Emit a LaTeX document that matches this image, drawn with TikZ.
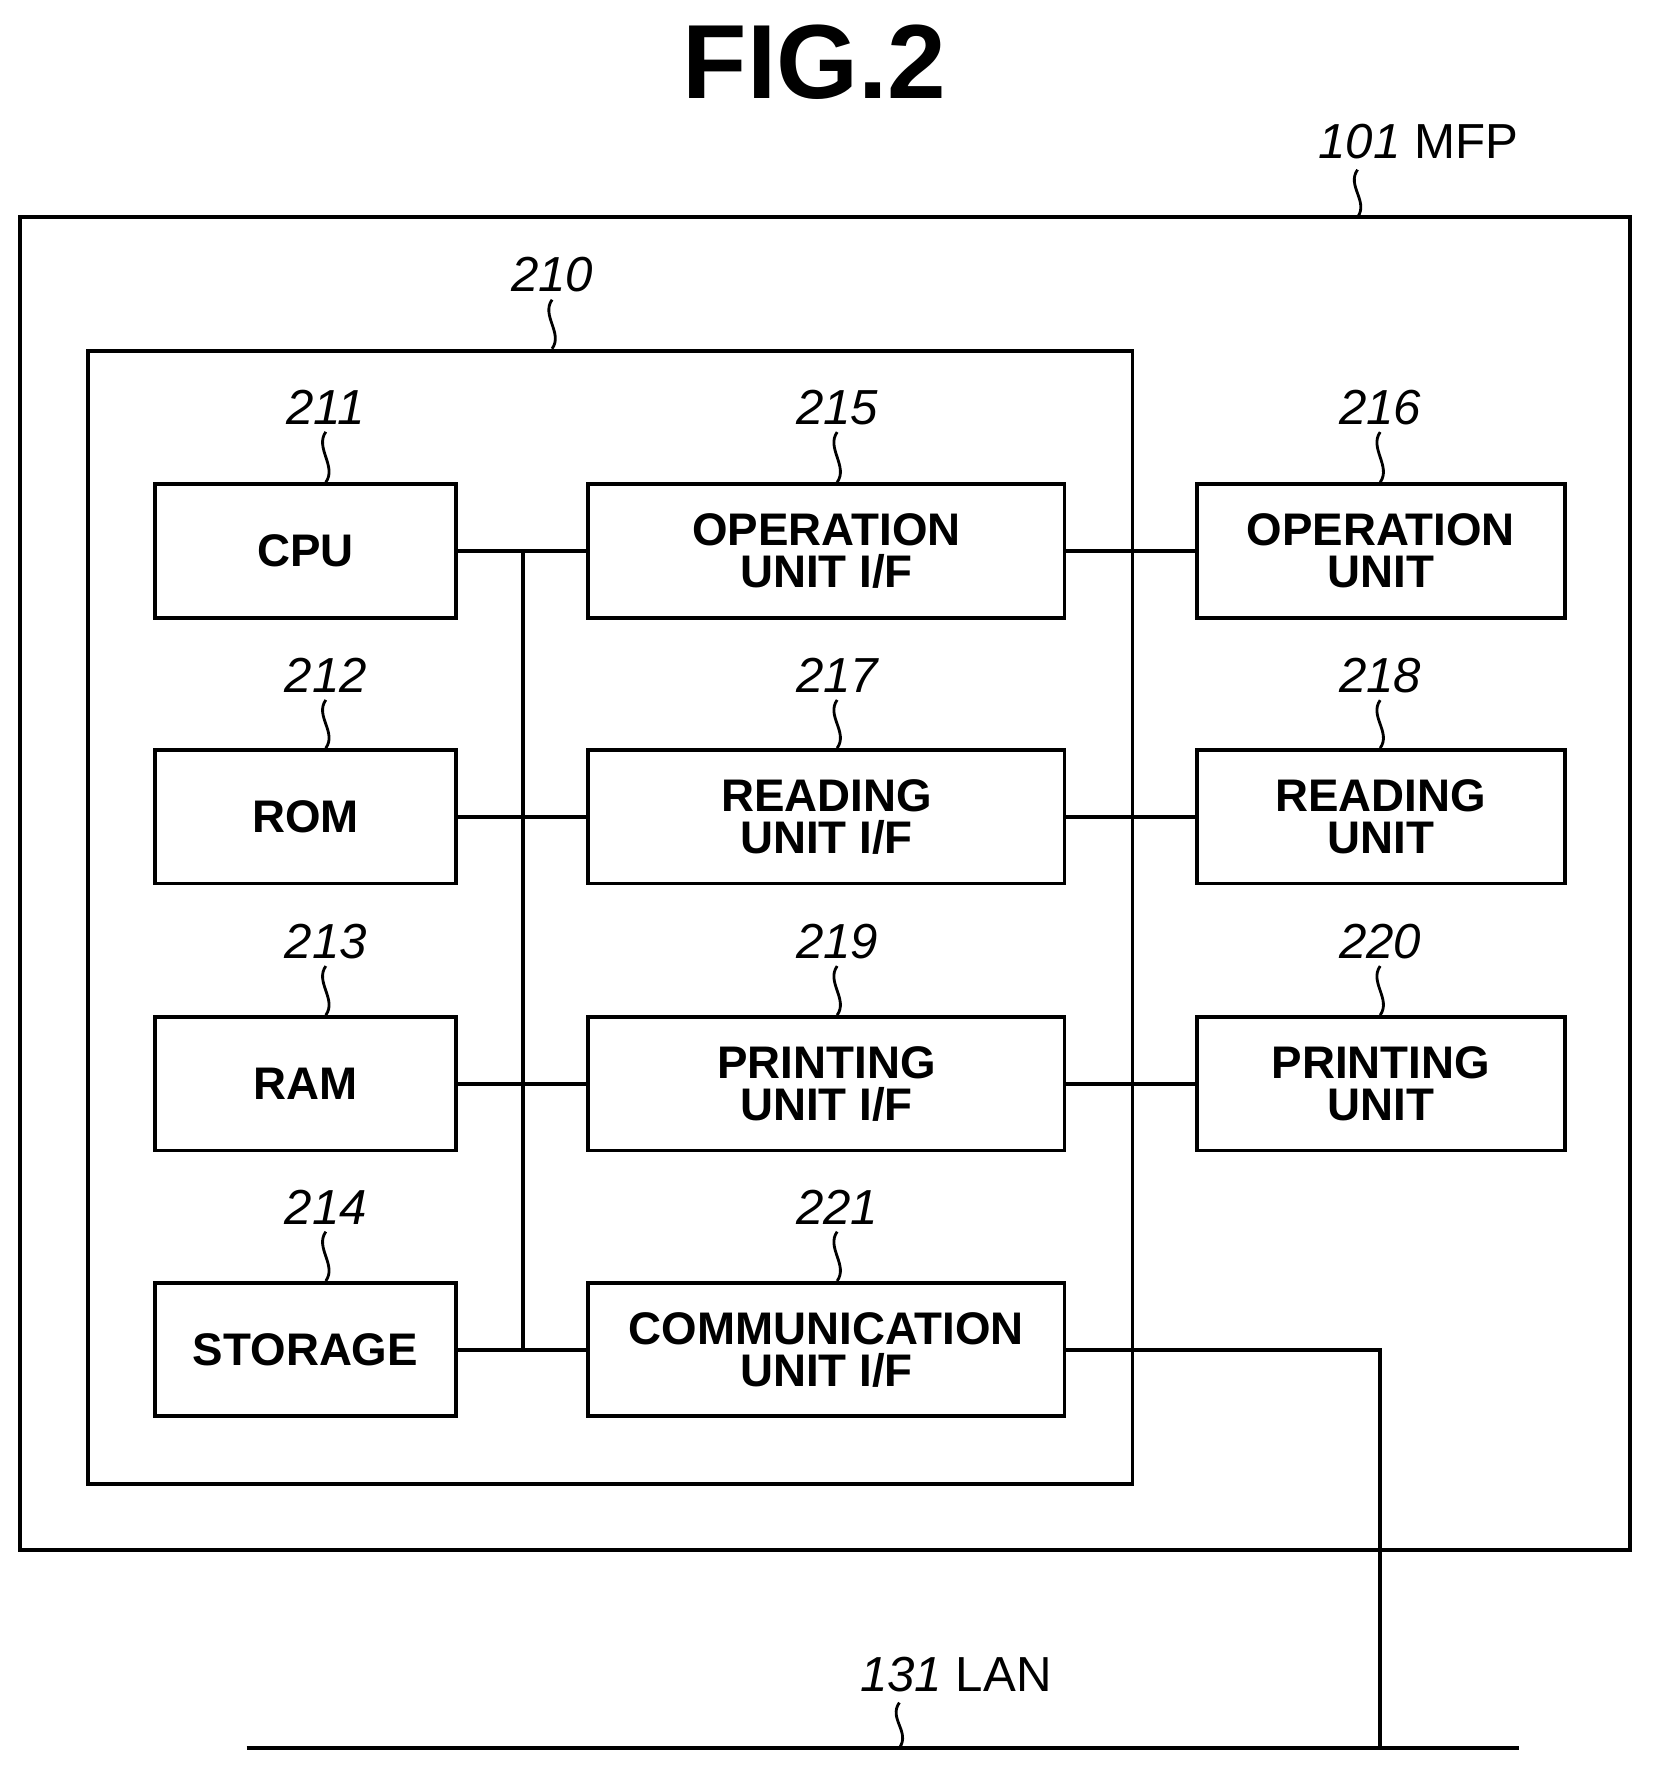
\documentclass[tikz,border=0pt]{standalone}
\usepackage{fontspec}
\setmainfont{Liberation Sans}
\begin{document}
\begin{tikzpicture}[x=0.02263cm,y=-0.02263cm,
  ln/.style={line width=2.2pt},
  box/.style={draw,line width=2.2pt,inner sep=0pt,align=center,font=\fontsize{26}{24}\selectfont\bfseries},
  num/.style={font=\fontsize{28}{28}\selectfont\itshape,inner sep=0pt},
  lead/.style={line width=1.6pt}]
\useasboundingbox (0,0) rectangle (1462,1569);
\node[font=\fontsize{60}{60}\selectfont\bfseries] (title) at (720,55) {FIG.2};
\node[box,minimum width={1423*0.02263cm},minimum height={1178*0.02263cm}] (mfp) at (729.5,781) {};
\node[box,minimum width={923*0.02263cm},minimum height={1002*0.02263cm}] (b210) at (539.5,811) {};
% boxes
\foreach \n/\x/\w/\y/\t in {
 cpu/270/266/487/CPU, rom/270/266/722/ROM, ram/270/266/958/RAM, sto/270/266/1193/STORAGE,
 opif/730.5/421/487/{OPERATION\\UNIT I/F}, rdif/730.5/421/722/{READING\\UNIT I/F},
 prif/730.5/421/958/{PRINTING\\UNIT I/F}, coif/730.5/421/1193/{COMMUNICATION\\UNIT I/F},
 op/1220.5/325/487/{OPERATION\\UNIT}, rd/1220.5/325/722/{READING\\UNIT}, pr/1220.5/325/958/{PRINTING\\UNIT}}
 \node[box,minimum width={\w*0.02263cm},minimum height={118*0.02263cm}] (\n) at (\x,\y) {\t};
% bus
\coordinate (bt) at (462,487); \coordinate (bb) at (462,1193);
\draw[ln] (bt) -- (bb);
\foreach \a/\b in {cpu/opif,rom/rdif,ram/prif,sto/coif,opif/op,rdif/rd,prif/pr}
  \draw[ln] (\a.east) -- (\b.west);
\coordinate (lanL) at (218,1545); \coordinate (lanR) at (1343,1545);
\coordinate (lanT) at (1220,1545);
\draw[ln] (lanL) -- (lanR);
\draw[ln] (coif.east) -| (lanT);
% labels
\foreach \n/\x/\y/\t in {
 l211/288/360/211, l215/740/360/215, l216/1220/360/216,
 l212/288/597/212, l217/740/597/217, l218/1220/597/218,
 l213/288/832/213, l219/740/832/219, l220/1220/832/220,
 l214/288/1067/214, l221/740/1067/221, l210/488/243/210}
 \node[num] (\n) at (\x,\y) {\t};
\foreach \n/\b in {l211/cpu,l215/opif,l216/op,l212/rom,l217/rdif,l218/rd,l213/ram,l219/prif,l220/pr,l214/sto,l221/coif,l210/b210}
 \draw[lead] ([yshift=-4pt]\n.south) .. controls +(-10,14) and +(10,-14) .. (\n.south |- \b.north);
\node[anchor=west,inner sep=0pt] (l101) at (1165,125) {\fontsize{28}{28}\selectfont\itshape 101\ \upshape MFP};
\coordinate (m1) at (1200,150); \coordinate (m2) at (1200,192);
\draw[lead] (m1) .. controls +(-10,14) and +(10,-14) .. (m2);
\node[anchor=west,inner sep=0pt] (l131) at (760,1480) {\fontsize{28}{28}\selectfont\itshape 131\ \upshape LAN};
\coordinate (n1) at (795,1505); \coordinate (n2) at (795,1545);
\draw[lead] (n1) .. controls +(-10,14) and +(10,-14) .. (n2);
\end{tikzpicture}
\end{document}
